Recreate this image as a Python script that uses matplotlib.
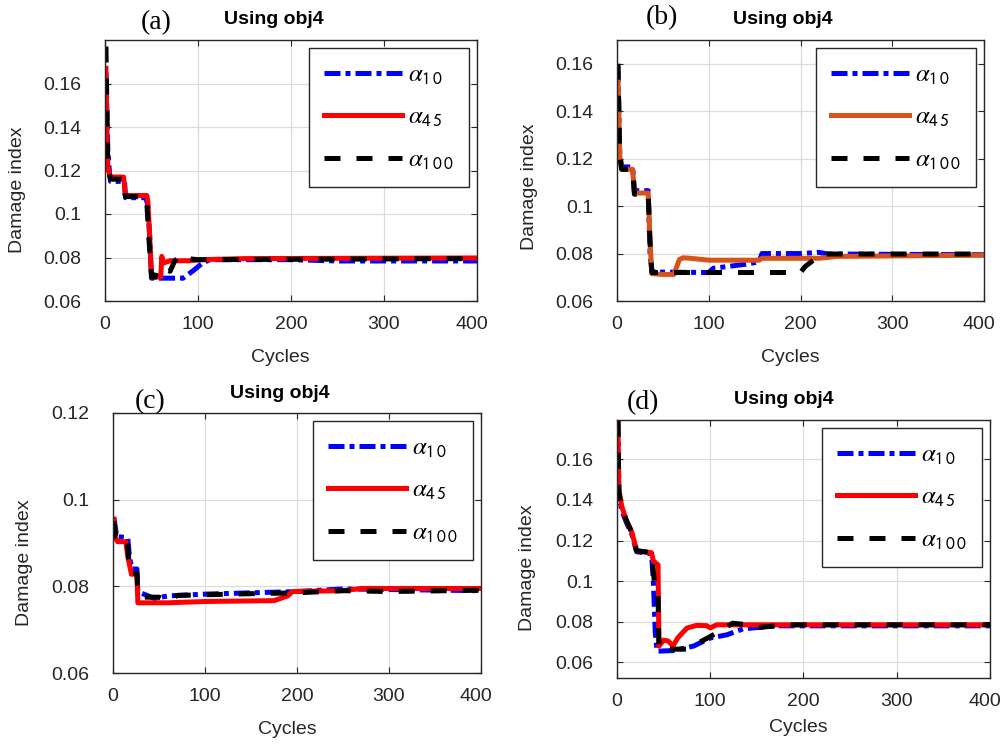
import matplotlib
matplotlib.use("Agg")
import matplotlib.pyplot as plt
from matplotlib.transforms import ScaledTranslation

plt.rcParams['font.family'] = ['Liberation Sans', 'DejaVu Sans']
plt.rcParams['mathtext.fontset'] = 'stix'

# ---- data ----
cycles_ticks = [0, 100, 200, 300, 400]

# panel (a)
a_x10 = [1, 3, 5, 6, 21, 22, 44, 46, 48, 50, 84, 95, 105, 113, 200, 250, 400]
a_y10 = [0.165, 0.13, 0.118, 0.115, 0.115, 0.1075, 0.1075, 0.104, 0.09, 0.0705, 0.0705, 0.074, 0.0775, 0.079, 0.079, 0.0784, 0.0784]
a_x45 = [1, 2, 3, 5, 6, 20, 22, 45, 46, 48, 50, 60, 61, 63, 70, 90, 105, 150, 400]
a_y45 = [0.167, 0.14, 0.122, 0.118, 0.117, 0.117, 0.1085, 0.1085, 0.106, 0.09, 0.071, 0.071, 0.0805, 0.0775, 0.0785, 0.0785, 0.079, 0.0795, 0.0798]
a_x100 = [1, 2, 3, 5, 6, 20, 22, 40, 42, 45, 47, 50, 54, 56, 70, 75, 82, 88, 100, 400]
a_y100 = [0.177, 0.15, 0.122, 0.118, 0.116, 0.116, 0.108, 0.108, 0.105, 0.105, 0.09, 0.071, 0.071, 0.075, 0.0737, 0.0785, 0.081, 0.0795, 0.079, 0.0795]

# panel (b)
b_x10 = [1, 2, 3, 5, 6, 17, 19, 34, 36, 38, 45, 100, 105, 120, 140, 155, 158, 200, 220, 230, 400]
b_y10 = [0.159, 0.14, 0.122, 0.117, 0.1165, 0.1165, 0.1065, 0.1065, 0.08, 0.0725, 0.0722, 0.072, 0.0738, 0.0745, 0.0755, 0.0765, 0.08, 0.08, 0.0805, 0.0798, 0.0795]
b_x45 = [1, 2, 3, 5, 6, 17, 19, 34, 36, 38, 50, 62, 68, 72, 80, 100, 155, 158, 220, 240, 400]
b_y45 = [0.155, 0.14, 0.121, 0.116, 0.1155, 0.1155, 0.1055, 0.1055, 0.085, 0.0715, 0.0712, 0.0712, 0.0775, 0.0782, 0.078, 0.0772, 0.0772, 0.078, 0.078, 0.0788, 0.0793]
b_x100 = [1, 2, 3, 5, 17, 19, 34, 36, 38, 200, 205, 215, 222, 400]
b_y100 = [0.16, 0.14, 0.121, 0.1155, 0.1155, 0.105, 0.105, 0.085, 0.072, 0.072, 0.0745, 0.0775, 0.0798, 0.0798]

# panel (c)
c_x10 = [1, 3, 4, 16, 18, 21, 26, 27, 30, 45, 60, 100, 150, 200, 250, 400]
c_y10 = [0.0958, 0.093, 0.0915, 0.0912, 0.0865, 0.084, 0.084, 0.079, 0.0785, 0.0772, 0.0778, 0.0782, 0.0785, 0.0788, 0.0794, 0.079]
c_x45 = [1, 3, 5, 14, 16, 20, 26, 27, 60, 100, 175, 190, 195, 250, 270, 400]
c_y45 = [0.0955, 0.091, 0.0903, 0.0903, 0.087, 0.0828, 0.0828, 0.0762, 0.0762, 0.0765, 0.0767, 0.0778, 0.0788, 0.079, 0.0795, 0.0795]
c_x100 = [1, 3, 15, 17, 20, 26, 27, 32, 50, 58, 65, 70, 150, 200, 250, 300, 400]
c_y100 = [0.095, 0.0915, 0.0912, 0.0865, 0.083, 0.083, 0.0785, 0.0775, 0.0775, 0.0767, 0.0772, 0.0779, 0.0783, 0.0785, 0.079, 0.0788, 0.0791]

# panel (d)
d_x10 = [1, 2, 5, 10, 16, 21, 37, 39, 41, 43, 60, 82, 100, 118, 135, 171, 400]
d_y10 = [0.179, 0.143, 0.135, 0.129, 0.123, 0.1145, 0.1135, 0.1, 0.075, 0.0655, 0.0658, 0.068, 0.072, 0.0736, 0.0765, 0.078, 0.078]
d_x45 = [1, 2, 5, 10, 16, 21, 37, 39, 44, 45, 50, 55, 60, 65, 75, 85, 96, 100, 107, 400]
d_y45 = [0.179, 0.145, 0.137, 0.13, 0.124, 0.115, 0.114, 0.11, 0.108, 0.068, 0.071, 0.0705, 0.068, 0.072, 0.0769, 0.0782, 0.0781, 0.077, 0.0785, 0.0785]
d_x100 = [1, 2, 5, 10, 16, 21, 37, 40, 44, 45, 75, 89, 107, 124, 140, 153, 170, 185, 400]
d_y100 = [0.179, 0.144, 0.136, 0.13, 0.124, 0.115, 0.114, 0.1, 0.094, 0.0665, 0.0665, 0.07, 0.0745, 0.0793, 0.0785, 0.0772, 0.078, 0.0785, 0.0785]

labels = [r'$\alpha_{\mathsf{1\,0}}$', r'$\alpha_{\mathsf{4\,5}}$', r'$\alpha_{\mathsf{1\,0\,0}}$']

W, H = 1003, 744
fig = plt.figure(figsize=(W / 100, H / 100), dpi=100)


def px(x, y):
    return x / W, 1 - y / H


def panel(box, ylim, yticks, yticklabels, series, mid_color, tag, tag_xy, title_xy, xlab_xy, ylab_xy):
    l, t, r, b = box
    ax = fig.add_axes([l / W, 1 - b / H, (r - l) / W, (b - t) / H])
    (x1, y1), (x2, y2), (x3, y3) = series
    lw = 3.6
    ax.plot(x1, y1, color='#0000ff', lw=lw, dashes=(3.2, 1.0, 1.0, 1.0), label=labels[0])
    ax.plot(x2, y2, color=mid_color, lw=lw, label=labels[1])
    ax.plot(x3, y3, color='black', lw=lw, dashes=(3.2, 3.2), label=labels[2])
    ax.set_xlim(0, 400)
    ax.set_ylim(*ylim)
    ax.set_xticks(cycles_ticks)
    ax.set_yticks(yticks)
    ax.set_yticklabels(yticklabels)
    ax.grid(True, color='#dcdcdc', lw=0.9)
    ax.set_axisbelow(True)
    ax.tick_params(direction='in', top=True, right=True, length=4, width=0.8,
                   labelsize=14, labelcolor='#262626', color='#262626')
    ax.tick_params(axis='y', pad=17)
    ax.tick_params(axis='x', pad=11)
    # last x label sits a little inside the axes edge, as in the original
    last = ax.get_xticklabels()[-1]
    last.set_transform(last.get_transform() + ScaledTranslation(-5 / 100, 0, fig.dpi_scale_trans))
    for s in ax.spines.values():
        s.set_color('#262626')
        s.set_linewidth(1.0)
    leg = ax.legend(loc='upper right', bbox_to_anchor=(0.978, 0.97), borderaxespad=0,
                    fontsize=18, handlelength=3.1, labelspacing=0.72, handletextpad=0.25,
                    borderpad=0.6, fancybox=False, framealpha=1, edgecolor='#262626')
    leg.get_frame().set_linewidth(1.0)
    fig.text(*px(*tag_xy), tag, family='Liberation Serif', fontsize=20, ha='center', va='center')
    fig.text(*px(*title_xy), 'Using obj4', fontsize=14, weight='bold', ha='center', va='center')
    fig.text(*px(*xlab_xy), 'Cycles', fontsize=14, color='#262626', ha='center', va='center')
    fig.text(*px(*ylab_xy), 'Damage index', fontsize=14, color='#262626', rotation=90,
             ha='center', va='center')
    return ax


panel((105, 40, 477, 301), (0.06, 0.18), [0.06, 0.08, 0.1, 0.12, 0.14, 0.16],
      ['0.06', '0.08', '0.1', '0.12', '0.14', '0.16'],
      [(a_x10, a_y10), (a_x45, a_y45), (a_x100, a_y100)], '#ff0000',
      '(a)', (156, 23), (274, 19), (280, 357), (18, 190))

panel((617, 40, 984, 301), (0.06, 0.17), [0.06, 0.08, 0.1, 0.12, 0.14, 0.16],
      ['0.06', '0.08', '0.1', '0.12', '0.14', '0.16'],
      [(b_x10, b_y10), (b_x45, b_y45), (b_x100, b_y100)], '#d95319',
      '(b)', (662, 18), (783, 19), (790, 357), (530, 187))

panel((113, 413, 481, 673), (0.06, 0.12), [0.06, 0.08, 0.1, 0.12],
      ['0.06', '0.08', '0.1', '0.12'],
      [(c_x10, c_y10), (c_x45, c_y45), (c_x100, c_y100)], '#ff0000',
      '(c)', (150, 402), (280, 393), (287, 729), (25, 563))

panel((617, 420, 990, 678), (0.0523, 0.1794), [0.06, 0.08, 0.1, 0.12, 0.14, 0.16],
      ['0.06', '0.08', '0.1', '0.12', '0.14', '0.16'],
      [(d_x10, d_y10), (d_x45, d_y45), (d_x100, d_y100)], '#ff0000',
      '(d)', (643, 403), (784, 399), (798, 727), (528, 568))

fig.savefig('out.png', dpi=100)
